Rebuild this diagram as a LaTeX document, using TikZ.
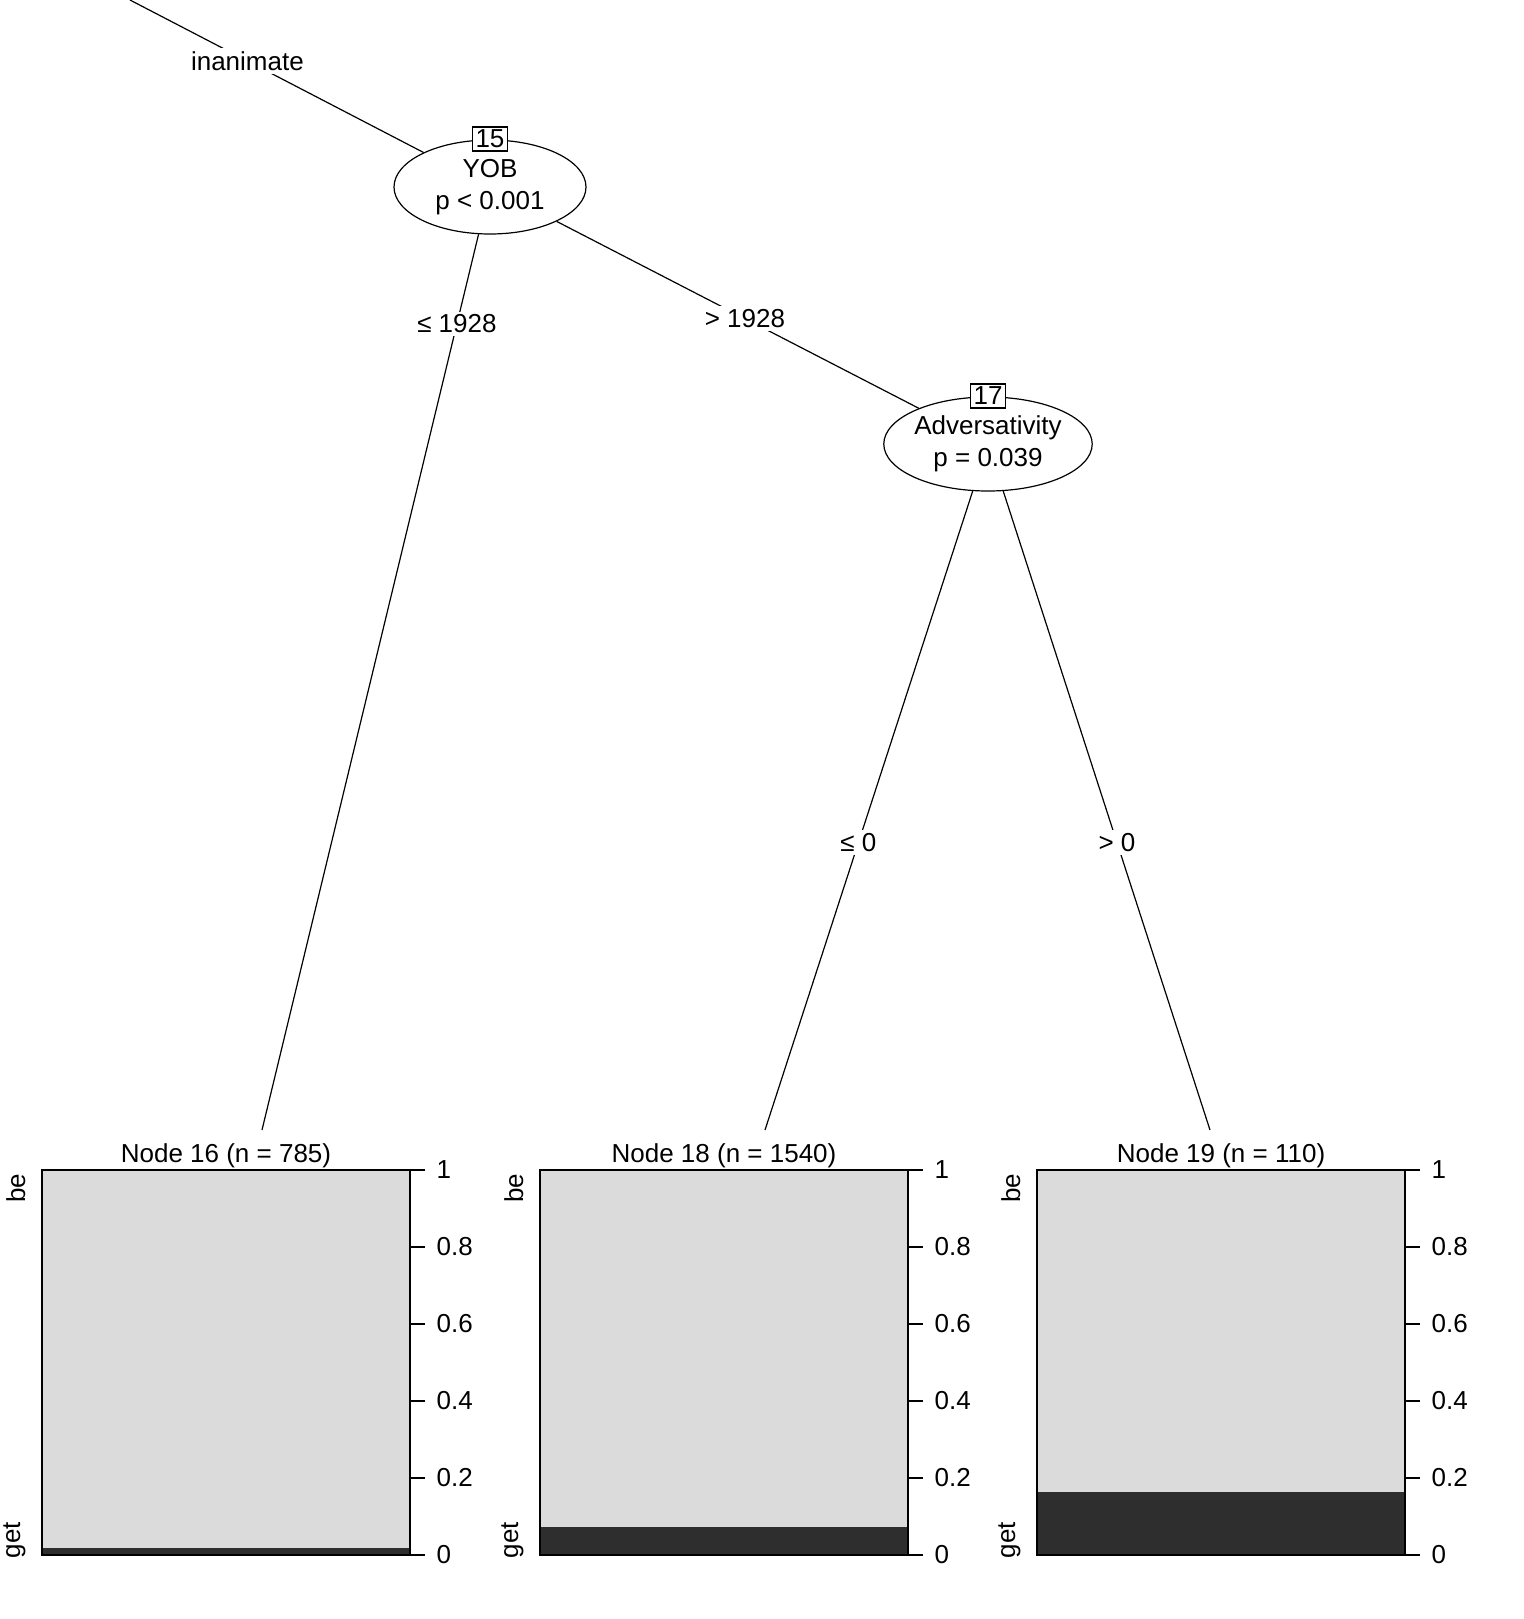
\documentclass[tikz,border=0pt]{standalone}
\usepackage{fontspec}
\setmainfont{Liberation Sans}
\usetikzlibrary{shapes.geometric}
\tikzset{
	split/.style={draw,ellipse,minimum width=96pt,minimum height=47pt,inner sep=0pt,align=center,font=\fontsize{13}{16}\selectfont},
	idbox/.style={draw,fill=white,inner sep=1.5pt,font=\fontsize{13}{14}\selectfont},
	elab/.style={fill=white,inner sep=1.5pt,font=\fontsize{13}{14}\selectfont},
	txt/.style={font=\fontsize{13}{14}\selectfont,inner sep=1pt}
}
\begin{document}
\begin{tikzpicture}[x=0.5pt,y=-0.5pt,line width=0.6pt]
	\useasboundingbox (0,0) rectangle (1523,1619);
	\coordinate (top) at (130,0);
	\node[split] (n15) at (490,187) {YOB\\p < 0.001};
	\node[split] (n17) at (988,444) {Adversativity\\p = 0.039};
	\coordinate (l16) at (262,1130);
	\coordinate (l18) at (765,1130);
	\coordinate (l19) at (1210,1130);
	
	\draw (top) -- (n15) node[elab,pos=0.4]{inanimate};
	\draw (n15) -- (l16) node[elab,pos=0.1]{≤ 1928};
	\draw (n15) -- (n17) node[elab,pos=0.52]{> 1928};
	\draw (n17) -- (l18) node[elab,pos=0.55]{≤ 0};
	\draw (n17) -- (l19) node[elab,pos=0.55]{> 0};
	\node[idbox] (id15) at (490,139) {15};
	\node[idbox] (id17) at (988,396) {17};
	
	% leaves
	\foreach \x/\lab/\n/\h in {42/16/785/1548,540/18/1540/1527,1037/19/110/1492}{
		\fill[gray!28] (\x,1170) rectangle (\x+368,\h);
		\fill[black!82] (\x,\h) rectangle (\x+368,1555);
		\draw (\x,1170) rectangle (\x+368,1555);
		\node[txt,anchor=south] at (\x+184,1170) {Node \lab\ (n = \n)};
		\node[txt,rotate=90,anchor=south] at (\x-14,1188) {be};
		\node[txt,rotate=90,anchor=south] at (\x-14,1540) {get};
		\foreach \v/\y in {1/1170,0.8/1247,0.6/1324,0.4/1401,0.2/1478,0/1555}{
			\draw (\x+368,\y) -- (\x+383,\y);
			\node[txt,anchor=west] at (\x+392,\y) {\v};
		}
	}
\end{tikzpicture}
\end{document}
